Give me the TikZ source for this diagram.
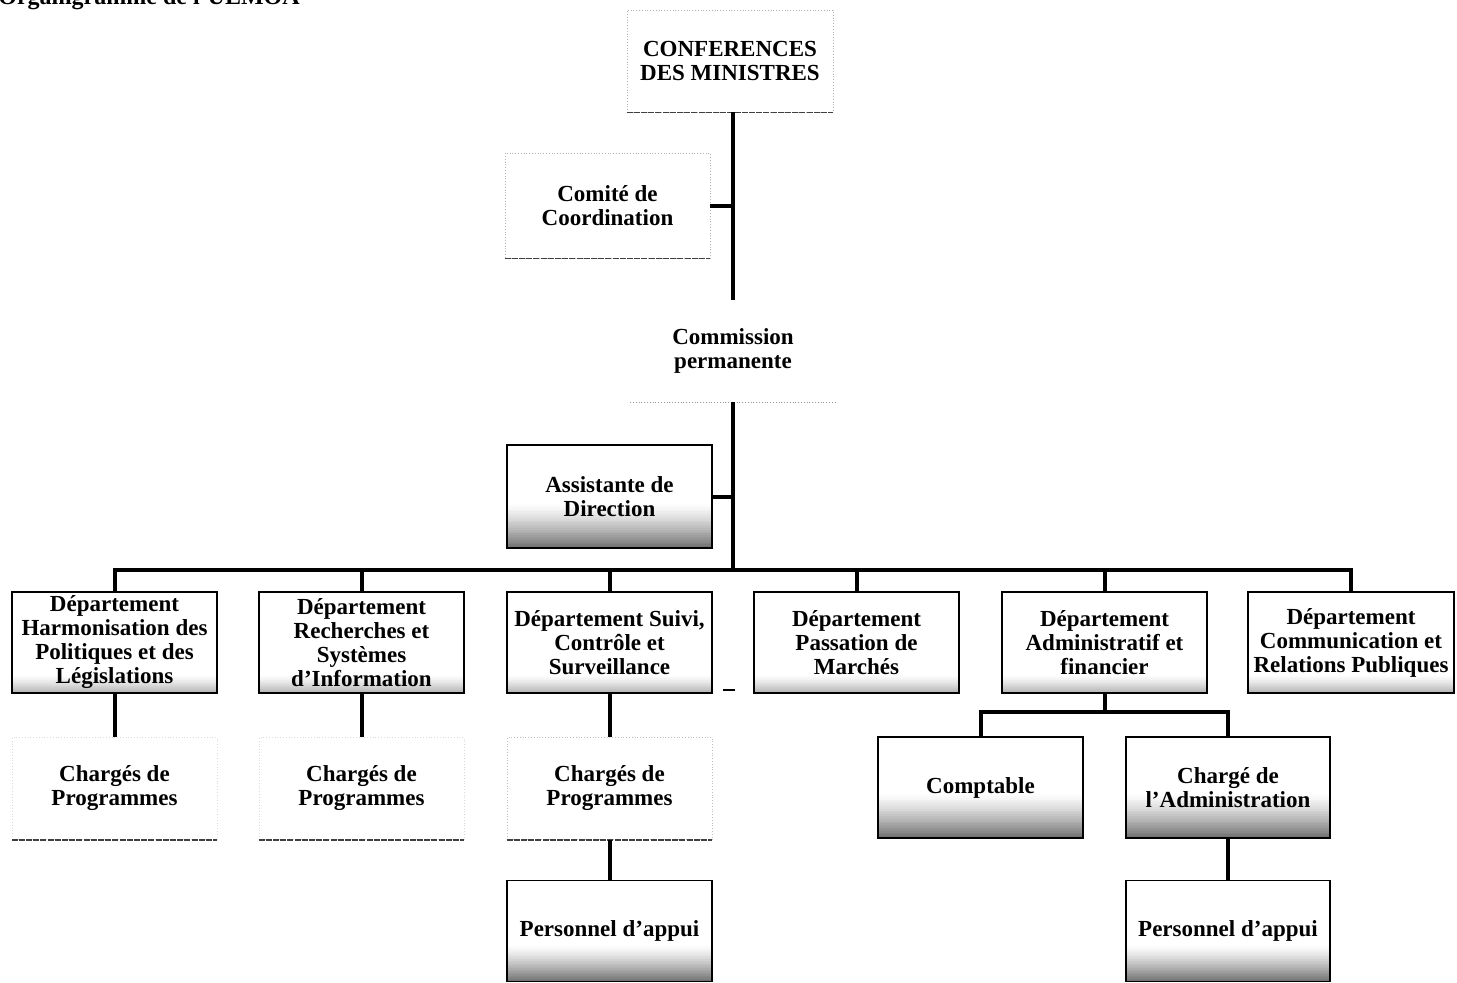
\documentclass[tikz,border=0pt]{standalone}
\usepackage{fontspec}
\setmainfont{Liberation Serif}
\newcommand{\grainstrips}[2]{%
  \foreach \k in {1,...,24}{%
    \pgfmathsetmacro\c{#2*((25-\k)/24)^1.3}%
    \fill[black!\c] ([yshift={(\k-1)*#1/24}]path picture bounding box.south west) rectangle ([yshift={\k*#1/24+0.1pt}]path picture bounding box.south east);%
  }}
\begin{document}
\begin{tikzpicture}[x=0.5pt,y=-0.5pt,
  every node/.style={font=\bfseries\fontsize{11.5}{12}\selectfont, align=center, inner sep=0pt},
  box/.style={draw=black, line width=0.8pt, minimum width=102.5pt, minimum height=50.5pt},
  faint/.style={draw=black!30, densely dotted, line width=0.4pt, minimum width=102.5pt, minimum height=51pt},
  plain/.style={minimum width=102.5pt, minimum height=51pt},
  shbox/.style={box, path picture={\grainstrips{#1}{55}}},
  lshbox/.style={box, path picture={\grainstrips{#1}{30}}},
  bottomline/.style={draw=black!75, line width=0.6pt, dash pattern=on 3pt off 0.6pt},
  link/.style={line width=2pt}
]
\useasboundingbox (0,0) rectangle (1457,982);

% title (cut by the page top, as in the reference)
\node[anchor=base west, font=\bfseries\fontsize{12}{14}\selectfont] (title) at (-2,4) {Organigramme de l'UEMOA};

% top level
\node[faint, minimum width=103pt] (conf) at (730,61) {CONFERENCES\\DES MINISTRES};
\draw[bottomline] (conf.south west) -- (conf.south east);
\node[faint, minimum height=52.5pt] (comite) at (607.5,205.5) {Comité de\\Coordination};
\draw[bottomline] (comite.south west) -- (comite.south east);
\node[plain] (comm) at (733,351) {Commission\\permanente};
\draw[draw=black!40, densely dotted, line width=0.4pt] (comm.south west) -- (comm.south east);
\node[shbox=22pt, minimum height=51.5pt] (asst) at (609.5,496.5) {Assistante de\\Direction};

\coordinate (bus) at (733,570);

% departments
\node[lshbox=9pt] (d1) at (114.5,642.5) {Département\\Harmonisation des\\Politiques et des\\Législations};
\node[lshbox=9pt] (d2) at (361.5,642.5) {Département\\Recherches et\\Systèmes\\d'Information};
\node[lshbox=9pt] (d3) at (609.5,642.5) {Département Suivi,\\Contrôle et\\Surveillance};
\node[lshbox=9pt] (d4) at (856.5,642.5) {Département\\Passation de\\Marchés};
\node[lshbox=9pt] (d5) at (1104.5,642.5) {Département\\Administratif et\\financier};
\node[lshbox=9pt, minimum width=103pt] (d6) at (1351,642.5) {Département\\Communication et\\Relations Publiques};

% chargés de programmes
\node[faint, draw=black!15] (cp1) at (114.5,788.5) {Chargés de\\Programmes};
\node[faint, draw=black!15] (cp2) at (361.5,788.5) {Chargés de\\Programmes};
\node[faint, draw=black!25] (cp3) at (609.5,788.5) {Chargés de\\Programmes};
\draw[bottomline] (cp1.south west) -- (cp1.south east);
\draw[bottomline] (cp2.south west) -- (cp2.south east);
\draw[bottomline] (cp3.south west) -- (cp3.south east);

% administratif
\node[shbox=22pt] (compt) at (980.5,787.5) {Comptable};
\node[shbox=22pt, minimum width=102pt] (charge) at (1228,787.5) {Chargé de\\l'Administration};
\coordinate (sub) at (1104.5,712);

% personnel
\node[shbox=18pt] (p1) at (609.5,931) {Personnel d'appui};
\node[shbox=18pt, minimum width=102pt] (p2) at (1228,931) {Personnel d'appui};

% connectors
\draw[link] (conf.south -| comm.north) -- (comm.north);
\draw[link] (comite.east) -- (comite.east -| comm.north);
\draw[link] (comm.south) -- (bus);
\draw[link] (asst.east) -- (asst.east -| comm.south);
\draw[link] (d1.north) |- (bus) -| (d6.north);
\draw[link] (d2.north) -- (d2.north |- bus);
\draw[link] (d3.north) -- (d3.north |- bus);
\draw[link] (d4.north) -- (d4.north |- bus);
\draw[link] (d5.north) -- (d5.north |- bus);
\draw[link] (d1.south) -- (cp1.north);
\draw[link] (d2.south) -- (cp2.north);
\draw[link] (d3.south) -- (cp3.north);
\draw[link] (cp3.south) -- (p1.north);
\draw[link] (d5.south) -- (sub);
\draw[link] (compt.north) |- (sub) -| (charge.north);
\draw[link] (charge.south) -- (p2.north);

% stray mark
\coordinate (m1) at (723,690);
\coordinate (m2) at (735,690);
\draw[line width=0.8pt] (m1) -- (m2);
\end{tikzpicture}
\end{document}
